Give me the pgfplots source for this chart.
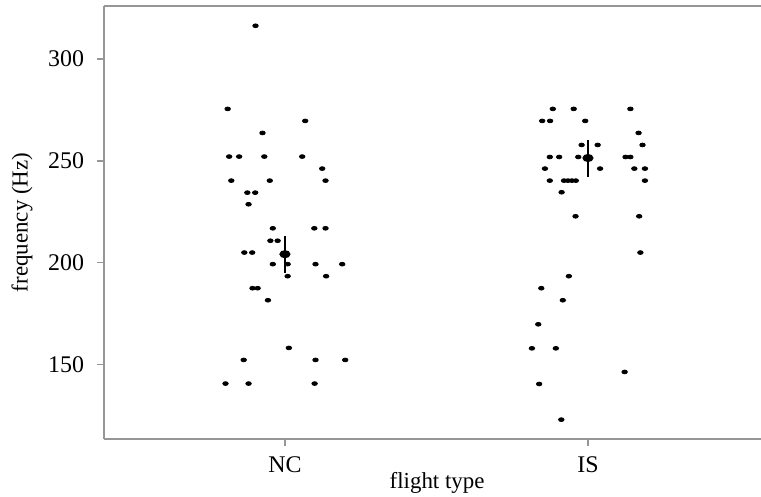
\documentclass[border=0pt]{standalone}
\usepackage{pgfplots}
\pgfplotsset{compat=1.18}
\usepackage{fontspec}
\setmainfont{Liberation Serif}
\definecolor{axgray}{RGB}{150,150,150}
\begin{document}
\begin{tikzpicture}
\begin{axis}[
  at={(52bp,29bp)}, anchor=south west,
  scale only axis, width=328.5bp, height=216.5bp,
  xmin=0.403, xmax=2.571, ymin=113.5, ymax=326.0,
  axis x line*=box, axis y line*=left,
  xtick pos=bottom, ytick pos=left,
  axis line style={axgray, line width=0.75bp},
  tick style={axgray, line width=0.75bp},
  tick align=outside,
  major tick length=3.5bp,
  xtick={1,2}, xticklabels={NC,IS},
  ytick={150,200,250,300},
  /pgf/number format/assume math mode=true,
  tick label style={font=\fontsize{12}{14}\selectfont, text=black},
  label style={font=\fontsize{11.5}{14}\selectfont},
  xlabel={flight type}, ylabel={frequency (Hz)},
  xlabel style={at={(axis description cs:0.507,-0.1016)}, anchor=center},
  ylabel style={at={(axis description cs:-0.1248,0.5)}, anchor=center},
  yticklabel style={xshift=-3bp},
  xticklabel style={yshift=-2bp},
  clip=false,
]
\addplot[only marks, mark=*, mark size=0.95bp, mark options={xscale=1.45, fill=black, draw=black}] table {
0.903 316.3
0.811 275.5
1.067 269.6
0.926 263.7
0.816 252.1
0.849 252.1
0.932 252.1
1.057 252.1
1.123 246.2
0.823 240.3
0.950 240.3
1.134 240.3
0.876 234.4
0.902 234.4
0.880 228.7
0.960 216.9
1.097 216.9
1.134 216.9
0.952 210.8
0.976 210.8
0.866 205.0
0.892 205.0
0.960 199.3
1.009 199.3
1.101 199.3
1.189 199.3
1.009 193.4
1.136 193.4
0.893 187.5
0.910 187.5
0.944 181.6
1.013 158.2
0.864 152.3
1.101 152.3
1.199 152.3
0.804 140.7
0.880 140.7
1.098 140.7
};
\addplot[only marks, mark=*, mark size=0.95bp, mark options={xscale=1.45, fill=black, draw=black}] table {
1.884 275.5
1.953 275.5
2.140 275.5
1.849 269.6
1.875 269.6
1.991 269.6
2.167 263.7
1.979 257.8
2.032 257.8
2.180 257.8
1.874 251.9
1.905 251.9
1.968 251.9
2.124 251.9
2.140 251.9
1.858 246.2
2.040 246.2
2.153 246.2
2.188 246.2
1.874 240.3
1.921 240.3
1.934 240.3
1.947 240.3
1.960 240.3
2.188 240.3
1.913 234.6
1.959 222.8
2.169 222.8
2.173 205.0
1.937 193.4
1.846 187.5
1.917 181.6
1.836 169.8
1.815 158.0
1.894 158.0
2.121 146.4
1.839 140.5
1.912 123.0
};
\addplot[only marks, black, line width=1bp, mark=*, mark size=1.5bp, mark options={xscale=1.5, fill=black},
  error bars/.cd, y dir=both, y explicit, error mark=none, error bar style={line width=1bp, black}]
  table[x=x, y=y, y error plus=ep, y error minus=em] {
x y ep em
1 204.2 9.0 9.3
2 251.4 8.7 9.1
};
\end{axis}
\pgfresetboundingbox
\path[use as bounding box] (0,0) rectangle (380.5bp,248.5bp);
\end{tikzpicture}
\end{document}
